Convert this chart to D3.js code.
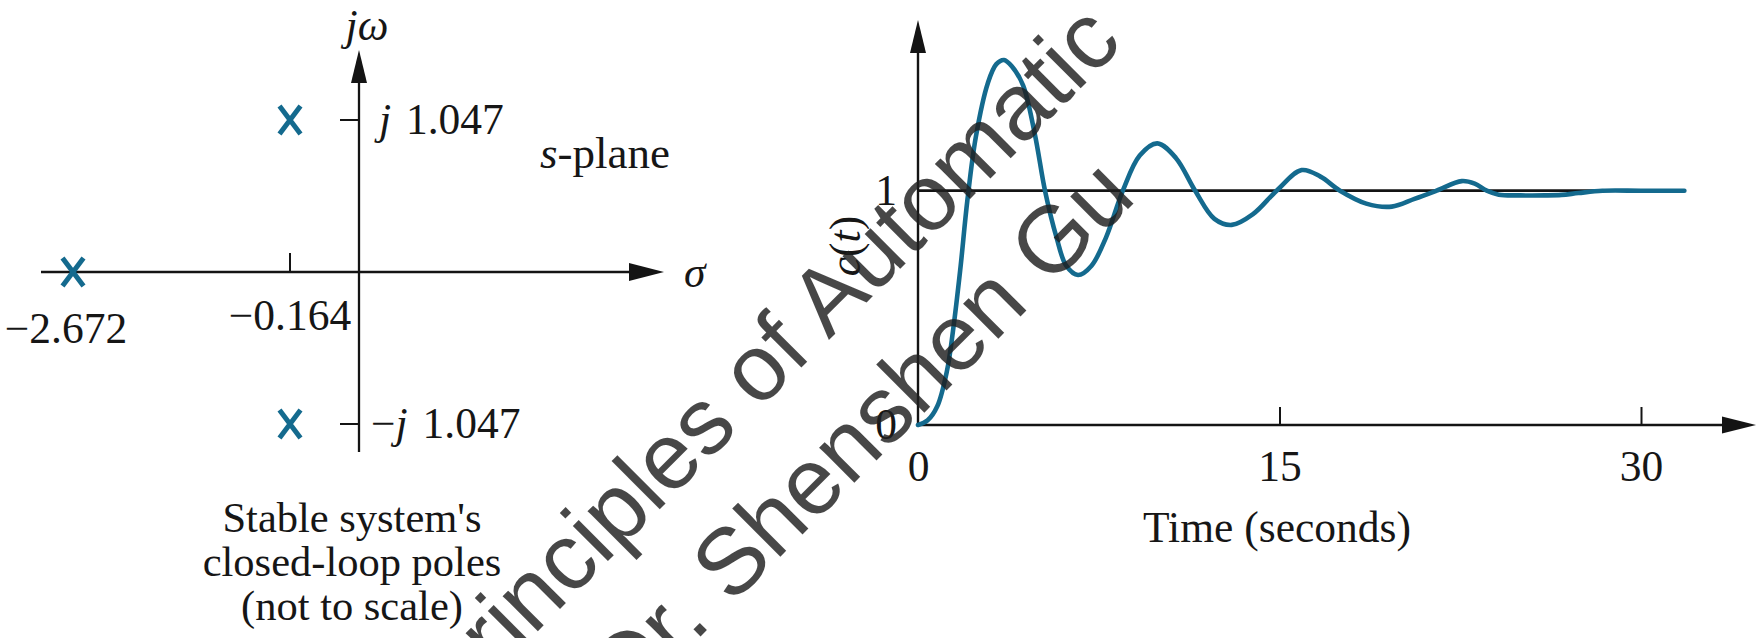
<!DOCTYPE html>
<html>
<head>
<meta charset="utf-8">
<script src="https://cdn.jsdelivr.net/npm/d3@7"></script>
<style>
  html, body { margin: 0; padding: 0; background: #ffffff; }
  svg { display: block; }
  text { font-family: "Liberation Serif", "Times New Roman", serif; fill: #161616; }
</style>
</head>
<body>
<svg id="fig" width="1756" height="638"></svg>
<script>
// ---- s-plane: closed-loop poles of the stable system ----
const poleSigma = [-2.672, -0.164, -0.164];
const poleOmega = [0, 1.047, -1.047];
const sigmaTicks = [-0.164];
const omegaTicks = [1.047, -1.047];

// ---- unit step response c(t) ----
const timeSec = [0, 0.4, 0.8, 1.2, 1.45, 1.75, 2.05, 2.4, 2.9, 3.25, 3.57, 3.9, 4.36, 4.85,
  5.27, 5.75, 6.15, 6.64, 7.2, 7.8, 8.5, 9.2, 9.93, 10.7, 11.5, 12.3, 13.02, 13.9, 14.88,
  15.92, 16.7, 17.51, 18.6, 19.66, 20.6, 21.52, 22.56, 23.1, 23.6, 24.1, 25.0, 26.0, 26.7,
  27.4, 28.4, 30.0, 31.8];
const response = [0, 0.02, 0.08, 0.23, 0.40, 0.66, 0.96, 1.23, 1.46, 1.54, 1.558, 1.53, 1.45, 1.24,
  1.0, 0.80, 0.68, 0.64, 0.68, 0.80, 1.0, 1.15, 1.202, 1.14, 1.0, 0.88, 0.854, 0.90, 1.0,
  1.088, 1.06, 1.0, 0.945, 0.932, 0.965, 1.0, 1.041, 1.03, 1.0, 0.983, 0.98, 0.98, 0.982,
  0.99, 1.0, 1.0, 1.0];
const timeTicks = [0, 15, 30];
const levelTicks = [0, 1];
const finalValue = 1;

const BLUE = "#146a8e";
const INK = "#141414";
const FONT = 43.5;

const svg = d3.select("#fig");

// filled triangular arrowhead; (x,y) is the tip, dir is the pointing direction
function arrowHead(g, x, y, dir, len, half) {
  const pts = dir === "up"
    ? [[x, y], [x - half, y + len], [x + half, y + len]]
    : [[x, y], [x - len, y - half], [x - len, y + half]];
  g.append("path").attr("d", d3.line()(pts) + "Z").attr("fill", INK);
}

// ================= left panel: s-plane =================
const left = svg.append("g");
// the plot is not to scale: piecewise-linear placement along each axis
const sx = d3.scaleLinear().domain([-2.672, -0.164, 0]).range([73, 290, 359]);
const sy = d3.scaleLinear().domain([-1.047, 0, 1.047]).range([424, 272, 120]);

// real axis
left.append("line").attr("x1", 41).attr("x2", 632).attr("y1", sy(0)).attr("y2", sy(0))
  .attr("stroke", INK).attr("stroke-width", 2.3);
arrowHead(left, 664, sy(0), "right", 35, 9);
// imaginary axis
left.append("line").attr("x1", sx(0)).attr("x2", sx(0)).attr("y1", 452).attr("y2", 80)
  .attr("stroke", INK).attr("stroke-width", 2.3);
arrowHead(left, sx(0), 50, "up", 33, 8);

// tick on the real axis with its value below
left.selectAll("line.st").data(sigmaTicks).join("line").attr("class", "st")
  .attr("x1", d => sx(d)).attr("x2", d => sx(d))
  .attr("y1", sy(0)).attr("y2", sy(0) - 19)
  .attr("stroke", INK).attr("stroke-width", 2);
left.selectAll("text.st").data(sigmaTicks).join("text").attr("class", "st")
  .attr("x", d => sx(d)).attr("y", 330).attr("text-anchor", "middle")
  .attr("font-size", FONT).text(d => "\u2212" + Math.abs(d).toFixed(3));

// ticks on the imaginary axis with j-labels
left.selectAll("line.wt").data(omegaTicks).join("line").attr("class", "wt")
  .attr("x1", sx(0) - 19).attr("x2", sx(0))
  .attr("y1", d => sy(d)).attr("y2", d => sy(d))
  .attr("stroke", INK).attr("stroke-width", 2);
const wl = left.selectAll("text.wt").data(omegaTicks).join("text").attr("class", "wt")
  .attr("x", d => d < 0 ? 371 : 379).attr("y", d => sy(d) + 14)
  .attr("font-size", FONT);
wl.append("tspan").text(d => d < 0 ? "\u2212" : "");
wl.append("tspan").attr("font-style", "italic").text("j");
wl.append("tspan").attr("dx", 4).text(d => "\u00A0" + Math.abs(d).toFixed(3));

// value label under the far-left real pole
left.selectAll("text.rp").data(poleSigma.filter((s, i) => poleOmega[i] === 0)).join("text")
  .attr("class", "rp").attr("x", d => sx(d) - 7).attr("y", 343).attr("text-anchor", "middle")
  .attr("font-size", FONT).text(d => "\u2212" + Math.abs(d).toFixed(3));

// pole markers
const poles = poleSigma.map((s, i) => ({ s, w: poleOmega[i] }));
left.selectAll("path.pole").data(poles).join("path").attr("class", "pole")
  .attr("transform", d => `translate(${sx(d.s)},${sy(d.w)})`)
  .attr("d", "M-10.5,-14L10.5,14M10.5,-14L-10.5,14")
  .attr("stroke", BLUE).attr("stroke-width", 5).attr("fill", "none");

// axis names and plane label
left.append("text").attr("x", 367).attr("y", 40).attr("text-anchor", "middle")
  .attr("font-size", FONT).attr("font-style", "italic").text("j\u03C9");
left.append("text").attr("x", 684).attr("y", 287).attr("font-size", FONT)
  .attr("font-style", "italic").text("\u03C3");
const sp = left.append("text").attr("x", 540).attr("y", 168).attr("font-size", 45);
sp.append("tspan").attr("font-style", "italic").text("s");
sp.append("tspan").text("-plane");

// caption
const caption = ["Stable system's", "closed-loop poles", "(not to scale)"];
left.selectAll("text.cap").data(caption).join("text").attr("class", "cap")
  .attr("x", 352).attr("y", (d, i) => 532 + i * 44).attr("text-anchor", "middle")
  .attr("font-size", 42.5).text(d => d);

// ================= right panel: step response =================
const right = svg.append("g");
const x = d3.scaleLinear().domain([0, 30]).range([918, 1641]);
const y = d3.scaleLinear().domain([0, 1]).range([425, 190.7]);

// axes lines with arrowheads
right.append("line").attr("x1", x(0)).attr("x2", 1724).attr("y1", y(0)).attr("y2", y(0))
  .attr("stroke", INK).attr("stroke-width", 2.4);
arrowHead(right, 1756, y(0), "right", 34, 8.5);
right.append("line").attr("x1", x(0)).attr("x2", x(0)).attr("y1", y(0)).attr("y2", 50)
  .attr("stroke", INK).attr("stroke-width", 2.4);
arrowHead(right, x(0), 20, "up", 33, 8);

// time ticks and labels
const xAxis = right.append("g").attr("transform", `translate(0,${y(0)})`)
  .call(d3.axisBottom(x).tickValues(timeTicks).tickSizeInner(-18).tickSizeOuter(0)
    .tickPadding(25).tickFormat(d3.format("d")));
xAxis.select(".domain").remove();
xAxis.selectAll(".tick line").attr("stroke", INK).attr("stroke-width", 2)
  .attr("display", d => d === 0 ? "none" : null);
xAxis.selectAll(".tick text").attr("font-size", FONT).attr("fill", INK)
  .attr("font-family", "Liberation Serif, Times New Roman, serif");

// level labels
const yAxis = right.append("g").attr("transform", `translate(${x(0)},0)`)
  .call(d3.axisLeft(y).tickValues(levelTicks).tickSize(0).tickPadding(21)
    .tickFormat(d3.format("d")));
yAxis.select(".domain").remove();
yAxis.selectAll(".tick text").attr("font-size", FONT).attr("fill", INK)
  .attr("font-family", "Liberation Serif, Times New Roman, serif");

// final-value reference line
right.append("line").attr("x1", x(0)).attr("x2", x(timeSec[timeSec.length - 1]))
  .attr("y1", y(finalValue)).attr("y2", y(finalValue))
  .attr("stroke", INK).attr("stroke-width", 2.7);

// response curve
const pts = timeSec.map((t, i) => [t, response[i]]);
right.append("path").datum(pts)
  .attr("d", d3.line().x(d => x(d[0])).y(d => y(d[1])).curve(d3.curveCatmullRom.alpha(0.5)))
  .attr("fill", "none").attr("stroke", BLUE).attr("stroke-width", 4.6)
  .attr("stroke-linejoin", "round").attr("stroke-linecap", "round");

// axis titles
const ct = right.append("text").attr("transform", "translate(860,246) rotate(-90)")
  .attr("text-anchor", "middle").attr("font-size", FONT);
ct.append("tspan").attr("font-style", "italic").text("c");
ct.append("tspan").text("(");
ct.append("tspan").attr("font-style", "italic").text("t");
ct.append("tspan").text(")");
right.append("text").attr("x", 1277).attr("y", 542).attr("text-anchor", "middle")
  .attr("font-size", FONT).text("Time (seconds)");

// ================= watermark =================
const mark = svg.append("g");
const markLines = [
  { text: "Principles of Automatic", at: [452, 717] },
  { text: "Dr. Shenshen Gu", at: [628, 709] }
];
mark.selectAll("text").data(markLines).join("text")
  .attr("transform", d => `translate(${d.at[0]},${d.at[1]}) rotate(-45)`)
  .style("fill", "#1e1e1e").style("fill-opacity", 0.82)
  .style("font-family", "'Liberation Sans', Arial, sans-serif").style("font-size", "94px")
  .text(d => d.text);
</script>
</body>
</html>
